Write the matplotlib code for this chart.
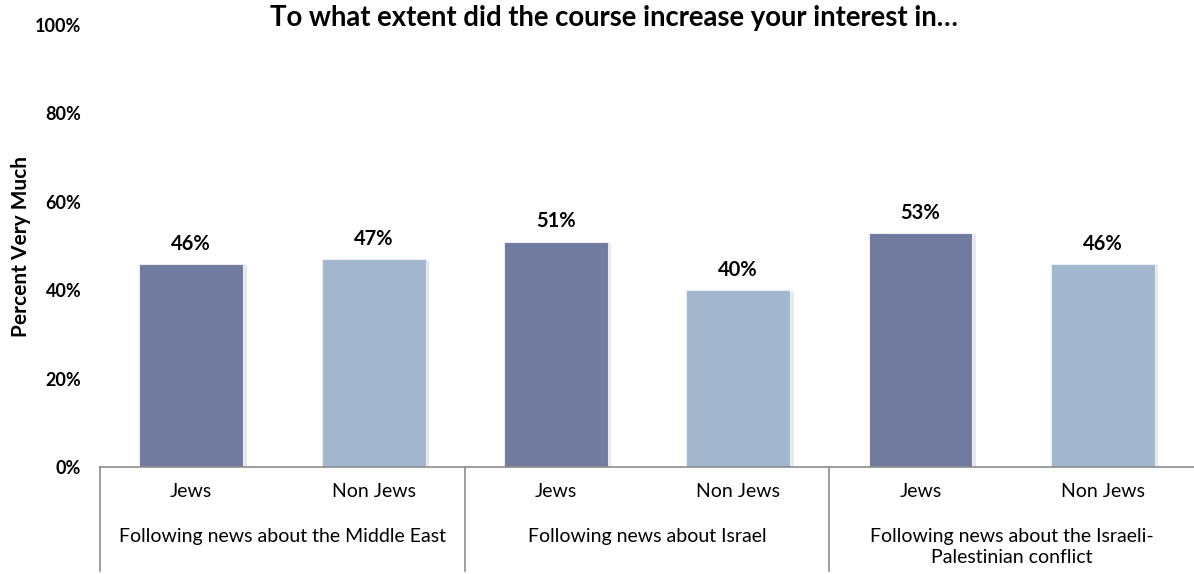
import matplotlib.pyplot as plt
from matplotlib.patches import Rectangle

plt.rcParams['font.family'] = ['Lato', 'DejaVu Sans']

# Survey results, percent answering "very much"
topics = ['Following news about the Middle East',
          'Following news about Israel',
          'Following news about the Israeli-\nPalestinian conflict']
groups = ['Jews', 'Non Jews']
values = [46, 47, 51, 40, 53, 46]
yticks = [0, 20, 40, 60, 80, 100]

dark = '#717a9f'
light = '#a2b7cd'

fig = plt.figure(figsize=(11.94, 5.74), dpi=100)
ax = fig.add_axes([0.0838, 0.1864, 0.9162, 0.77])

xs = list(range(len(values)))
colors = [dark if i % 2 == 0 else light for i in xs]
width = 0.57

# soft drop shadow to the right of each bar
for x, v in zip(xs, values):
    ax.add_patch(Rectangle((x - width / 2 + 0.02, 0), width, v - 0.3,
                           facecolor='#d0d0d0', edgecolor='none', alpha=0.5, zorder=1))
ax.bar(xs, values, width=width, color=colors, edgecolor='#e8edf3', linewidth=0.8, zorder=2)

for x, v in zip(xs, values):
    ax.text(x, v + 2.3, f'{v}%', ha='center', va='bottom', fontsize=14.5,
            fontweight='bold', color='black')

ax.set_xlim(-0.5, len(values) - 0.5)
ax.set_ylim(0, 100)
ax.set_yticks(yticks)
ax.set_yticklabels([f'{t}%' for t in yticks], fontsize=13, fontweight='bold')
ax.tick_params(axis='y', length=0, pad=13.5)
ax.set_xticks([])

for side in ['top', 'right', 'left']:
    ax.spines[side].set_visible(False)
ax.spines['bottom'].set_color('#8c8c8c')
ax.spines['bottom'].set_linewidth(1.2)

ax.set_ylabel('Percent Very Much', fontsize=15, fontweight='bold')
ax.yaxis.set_label_coords(-0.063, 0.5)

fig.text(0.514, 0.968, 'To what extent did the course increase your interest in\u2026',
         ha='center', va='center', fontsize=19.8, fontweight='bold')

# two-level category axis underneath the bars
trans = ax.get_xaxis_transform()
for x in xs:
    ax.text(x, -0.055, groups[x % 2], transform=trans, ha='center', va='center',
            fontsize=14)
for i, topic in enumerate(topics):
    cx = 2 * i + 0.5
    ax.text(cx, -0.137, topic, transform=trans, ha='center', va='top',
            fontsize=14, linespacing=1.3)
for sep in [-0.5, 1.5, 3.5]:
    ax.plot([sep, sep], [0, -0.235], transform=trans, color='#8c8c8c',
            linewidth=1.2, clip_on=False)

fig.savefig('out.png', dpi=100)
